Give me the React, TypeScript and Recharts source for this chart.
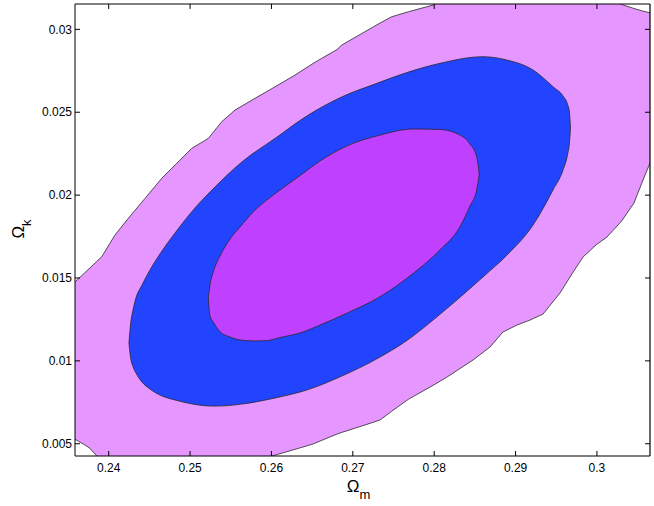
import React from 'react';
import { ComposedChart, Area, XAxis, YAxis, Label, ReferenceLine } from 'recharts';

// ---- Data (Omega_m on x, Omega_k on y) ----
// Outer (light violet) confidence region: x samples with lower / upper boundary
const pinkX = [0.23586, 0.23709, 0.2377, 0.23853, 0.23914, 0.24077, 0.24241, 0.24446, 0.24651, 0.24815, 0.2502, 0.25224, 0.25389, 0.25552, 0.25798, 0.26007, 0.26289, 0.2651, 0.26617, 0.26805, 0.26863, 0.27149, 0.27334, 0.27478, 0.27682, 0.27989, 0.28157, 0.28477, 0.28685, 0.28845, 0.29017, 0.29177, 0.29337, 0.29546, 0.29669, 0.29828, 0.29988, 0.30123, 0.30304, 0.30455, 0.30566, 0.30652];
const pinkHigh = [0.01476, 0.01533, 0.01561, 0.016, 0.01628, 0.01759, 0.0186, 0.0198, 0.02101, 0.02181, 0.02282, 0.02342, 0.02443, 0.02513, 0.02584, 0.02643, 0.02724, 0.02794, 0.02825, 0.02878, 0.02905, 0.02986, 0.03038, 0.03076, 0.03106, 0.03147, 0.032, 0.032, 0.032, 0.032, 0.032, 0.032, 0.032, 0.032, 0.032, 0.032, 0.032, 0.032, 0.0315, 0.03126, 0.0311, 0.031];
const pinkLow = [0.00527, 0.00492, 0.00472, 0.00426, 0.004, 0.004, 0.004, 0.004, 0.004, 0.004, 0.004, 0.004, 0.004, 0.004, 0.004, 0.00426, 0.00466, 0.00498, 0.0052, 0.00558, 0.00568, 0.00613, 0.00643, 0.00696, 0.00768, 0.00853, 0.00902, 0.01005, 0.01083, 0.01174, 0.01216, 0.01246, 0.01282, 0.01409, 0.01506, 0.01626, 0.01699, 0.01747, 0.01844, 0.01952, 0.02091, 0.02193];

// Middle (blue) confidence region
const blueX = [0.24249, 0.24268, 0.24299, 0.24335, 0.24409, 0.24507, 0.24655, 0.24815, 0.2506, 0.25306, 0.25634, 0.26044, 0.26453, 0.26863, 0.27272, 0.27682, 0.28071, 0.28599, 0.28894, 0.29214, 0.2946, 0.29583, 0.29638, 0.29662, 0.29675];
const blueHigh = [0.01108, 0.01216, 0.01307, 0.01379, 0.01457, 0.01548, 0.01663, 0.01771, 0.01922, 0.02049, 0.02199, 0.02342, 0.02483, 0.02592, 0.0267, 0.02742, 0.02795, 0.02835, 0.02815, 0.02755, 0.02654, 0.02598, 0.02549, 0.02501, 0.02405];
const blueLow = [0.01108, 0.01023, 0.00965, 0.00927, 0.00872, 0.0083, 0.00788, 0.00764, 0.00737, 0.00727, 0.00739, 0.00776, 0.00827, 0.00908, 0.01006, 0.01129, 0.01281, 0.01506, 0.01638, 0.01819, 0.02031, 0.02151, 0.02242, 0.02314, 0.02405];

// Inner (purple) confidence region
const purpleX = [0.25224, 0.25245, 0.25285, 0.25368, 0.25491, 0.25613, 0.25798, 0.25942, 0.26106, 0.26351, 0.26597, 0.26925, 0.27334, 0.27743, 0.28071, 0.28317, 0.2844, 0.28522, 0.28554];
const purpleHigh = [0.01379, 0.01457, 0.01536, 0.01632, 0.01735, 0.01807, 0.0191, 0.0197, 0.02031, 0.02118, 0.02206, 0.02296, 0.02362, 0.02399, 0.02396, 0.02362, 0.02308, 0.02231, 0.02127];
const purpleLow = [0.01379, 0.0127, 0.01234, 0.01176, 0.01144, 0.01126, 0.0112, 0.01122, 0.01141, 0.01168, 0.01216, 0.01287, 0.01387, 0.01528, 0.01669, 0.01809, 0.01934, 0.02031, 0.02127];

const xTicks = [0.24, 0.25, 0.26, 0.27, 0.28, 0.29, 0.3];
const xTickLabels = ['0.24', '0.25', '0.26', '0.27', '0.28', '0.29', '0.3'];
const yTicks = [0.005, 0.01, 0.015, 0.02, 0.025, 0.03];
const yTickLabels = ['0.005', '0.01', '0.015', '0.02', '0.025', '0.03'];

const xDomain = [0.23586, 0.30652];
const yDomain = [0.00426, 0.03153];

// length of the inward tick marks on the mirrored (top / right) frame, in axis units (~5px)
const TICK_DX = 0.000614;
const TICK_DY = 0.0003;

const build = (xs: number[], lo: number[], hi: number[]) =>
  xs.map((x, i) => ({ x, range: [lo[i], hi[i]] }));

const pinkData = build(pinkX, pinkLow, pinkHigh);
const blueData = build(blueX, blueLow, blueHigh);
const purpleData = build(purpleX, purpleLow, purpleHigh);

const FONT = '"Liberation Sans", Arial, Helvetica, sans-serif';

const fmtX = (v: number) => {
  const i = xTicks.findIndex((t) => Math.abs(t - v) < 1e-9);
  return i >= 0 ? xTickLabels[i] : String(v);
};
const fmtY = (v: number) => {
  const i = yTicks.findIndex((t) => Math.abs(t - v) < 1e-9);
  return i >= 0 ? yTickLabels[i] : String(v);
};

const XLabel = (props: any) => {
  const vb = props.viewBox || { x: 75, y: 456, width: 575, height: 50 };
  return (
    <text x={vb.x + vb.width / 2 - 4} y={vb.y + 36} textAnchor="middle" fontFamily={FONT} fill="#000">
      <tspan fontSize={17}>Ω</tspan>
      <tspan fontSize={13} dy={7}>m</tspan>
    </text>
  );
};

const YLabel = (props: any) => {
  const vb = props.viewBox || { x: 0, y: 4, width: 75, height: 452 };
  const cx = vb.x + 24;
  const cy = vb.y + 225;
  return (
    <text transform={`translate(${cx},${cy}) rotate(-90)`} x={0} y={0} textAnchor="middle" fontFamily={FONT} fill="#000">
      <tspan fontSize={17}>Ω</tspan>
      <tspan fontSize={13} dy={7}>k</tspan>
    </text>
  );
};

const tickStyle = { fill: '#000', fontSize: 12, fontFamily: FONT };

export default function App() {
  return (
    <div style={{ position: 'absolute', left: 0, top: 0, width: 654, height: 506, background: '#fff' }}>
      <ComposedChart width={654} height={506} margin={{ top: 4, right: 4, bottom: 0, left: 0 }}>
        <XAxis
          dataKey="x"
          type="number"
          domain={xDomain}
          allowDataOverflow
          ticks={xTicks}
          interval={0}
          tickFormatter={fmtX}
          tickSize={-5}
          tickMargin={12}
          height={50}
          stroke="#000"
          tick={tickStyle}
          label={<Label content={<XLabel />} />}
        />
        <YAxis
          type="number"
          domain={yDomain}
          allowDataOverflow
          ticks={yTicks}
          interval={0}
          tickFormatter={fmtY}
          tickSize={-5}
          tickMargin={8}
          width={75}
          stroke="#000"
          tick={tickStyle}
          label={<Label content={<YLabel />} />}
        />
        <Area data={pinkData} dataKey="range" type="linear" fill="#E696FF" fillOpacity={1} stroke="#2a2a2a" strokeWidth={0.8} isAnimationActive={false} dot={false} activeDot={false} />
        <Area data={blueData} dataKey="range" type="monotone" fill="#2244FF" fillOpacity={1} stroke="#2a2a2a" strokeWidth={0.8} isAnimationActive={false} dot={false} activeDot={false} />
        <Area data={purpleData} dataKey="range" type="monotone" fill="#BF40FF" fillOpacity={1} stroke="#2a2a2a" strokeWidth={0.8} isAnimationActive={false} dot={false} activeDot={false} />
        {/* frame: top and right borders */}
        <ReferenceLine y={yDomain[1]} stroke="#000" strokeWidth={1.2} ifOverflow="visible" />
        <ReferenceLine x={xDomain[1]} stroke="#000" strokeWidth={1.2} ifOverflow="visible" />
        {/* inward tick marks on top border */}
        {xTicks.map((t) => (
          <ReferenceLine
            key={'tt' + t}
            segment={[{ x: t, y: yDomain[1] }, { x: t, y: yDomain[1] - TICK_DY }]}
            stroke="#000"
            ifOverflow="visible"
          />
        ))}
        {/* inward tick marks on right border */}
        {yTicks.map((t) => (
          <ReferenceLine
            key={'rt' + t}
            segment={[{ x: xDomain[1], y: t }, { x: xDomain[1] - TICK_DX, y: t }]}
            stroke="#000"
            ifOverflow="visible"
          />
        ))}
      </ComposedChart>
    </div>
  );
}
